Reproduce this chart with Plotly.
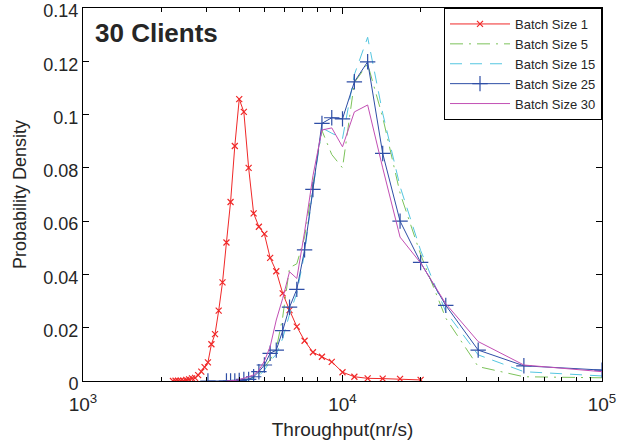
import plotly.graph_objects as go

# Throughput bin centres (nr/s), shared by all batch-size histograms
THROUGHPUT = [100000, 50000, 33333, 25000, 20000, 16667, 14286, 12500, 11111, 10000,
              9091, 8333, 7692, 7143, 6667, 6250, 5882, 5556, 5263, 5000,
              4762, 4545, 4348, 4167, 4000, 3846, 3704, 3571, 3448, 3333,
              3226, 3125, 3030, 2941, 2857, 2778, 2703, 2632, 2564, 2500,
              2439, 2381, 2326, 2273, 2222]

# Batch Size 1 (bins 5..45)
BS1_X = THROUGHPUT[4:]
BS1_Y = [0.0004, 0.0008, 0.0009, 0.0010, 0.0016, 0.0033, 0.0072, 0.0091, 0.0108, 0.0151,
         0.0204, 0.0266, 0.0329, 0.0412, 0.0462, 0.0552, 0.0579, 0.0629, 0.0800, 0.1010,
         0.1058, 0.0882, 0.0672, 0.0520, 0.0370, 0.0264, 0.0176,
         0.0138, 0.0070, 0.0052, 0.0035, 0.0022, 0.0012, 0.0010, 0.0006, 0.0004,
         0.0001, 0.0001, 0.0001, 0.0001, 0.0000]

# Batch Size 5 (bins 1..28)
BS5_X = THROUGHPUT[:28]
BS5_Y = [0.0012, 0.0016, 0.0054, 0.0236, 0.0475, 0.0705, 0.0990, 0.1190, 0.1120, 0.0800,
         0.0850, 0.0940, 0.0740, 0.0540, 0.0440, 0.0425, 0.0240, 0.0120, 0.0080, 0.0050,
         0.0025, 0.0012, 0.0006, 0.0003, 0.0001, 0.0000, 0.0000, 0.0000]

# Batch Size 15 (bins 1..28)
BS15_X = THROUGHPUT[:28]
BS15_Y = [0.0019, 0.0035, 0.0098, 0.0260, 0.0490, 0.0730, 0.1005, 0.1290, 0.1150, 0.0910,
          0.0930, 0.0950, 0.0720, 0.0480, 0.0330, 0.0250, 0.0160, 0.0100, 0.0075, 0.0040,
          0.0020, 0.0010, 0.0004, 0.0002, 0.0000, 0.0000, 0.0000, 0.0000]

# Batch Size 25 (bins 1..28 plus one empty bin further out)
BS25_X = THROUGHPUT[:28] + [THROUGHPUT[32]]
BS25_Y = [0.0041, 0.0057, 0.0116, 0.0284, 0.0445, 0.0600, 0.0854, 0.1198, 0.1123, 0.0984,
          0.0988, 0.0967, 0.0719, 0.0492, 0.0344, 0.0277, 0.0189, 0.0116, 0.0104, 0.0060,
          0.0035, 0.0016, 0.0006, 0.0006, 0.0002, 0.0000, 0.0000, 0.0000, 0.0000]

# Batch Size 30 (bins 1..28)
BS30_X = THROUGHPUT[:28]
BS30_Y = [0.0035, 0.0060, 0.0148, 0.0290, 0.0443, 0.0540, 0.0800, 0.1036, 0.1010, 0.0879,
          0.0950, 0.0942, 0.0770, 0.0560, 0.0385, 0.0410, 0.0310, 0.0229, 0.0129, 0.0075,
          0.0040, 0.0023, 0.0016, 0.0010, 0.0005, 0.0002, 0.0000, 0.0000]

X_TICKS = [1000, 10000, 100000]
X_TICK_TEXT = ["10<sup>3</sup>", "10<sup>4</sup>", "10<sup>5</sup>"]
X_MINOR = [2000, 3000, 4000, 5000, 6000, 7000, 8000, 9000,
           20000, 30000, 40000, 50000, 60000, 70000, 80000, 90000]
Y_TICKS = [0, 0.02, 0.04, 0.06, 0.08, 0.1, 0.12, 0.14]
Y_TICK_TEXT = ["0", "0.02", "0.04", "0.06", "0.08", "0.1", "0.12", "0.14"]

FONT = "Arial, Liberation Sans, Helvetica, sans-serif"
TEXT = "#262626"

fig = go.Figure()

fig.add_trace(go.Scatter(
    x=BS1_X, y=BS1_Y, name="Batch Size 1", legendgroup="bs1", mode="lines+markers",
    line=dict(color="#f02828", width=1),
    marker=dict(symbol="x-thin", size=6, line=dict(color="#f02828", width=1.2))))

fig.add_trace(go.Scatter(
    x=BS5_X, y=BS5_Y, name="Batch Size 5", legendgroup="bs5", mode="lines",
    line=dict(color="#7cc35a", width=1, dash="13px,6px,2px,6px")))

fig.add_trace(go.Scatter(
    x=BS15_X, y=BS15_Y, name="Batch Size 15", legendgroup="bs15", mode="lines",
    line=dict(color="#55c6e0", width=1, dash="12px,8px")))

fig.add_trace(go.Scatter(
    x=BS25_X, y=BS25_Y, name="Batch Size 25", legendgroup="bs25", mode="lines+markers",
    line=dict(color="#2e4ea6", width=1),
    marker=dict(symbol="cross-thin", size=11, line=dict(color="#2e4ea6", width=1.2))))

fig.add_trace(go.Scatter(
    x=BS30_X, y=BS30_Y, name="Batch Size 30", legendgroup="bs30", mode="lines",
    line=dict(color="#c24fb4", width=1)))

fig.add_annotation(
    text="<b>30 Clients</b>", xref="paper", yref="paper",
    x=0.019, y=0.934, xanchor="left", yanchor="middle", showarrow=False,
    font=dict(family=FONT, size=26, color=TEXT))

fig.update_xaxes(
    type="log", range=[3, 5], automargin=False,
    tickvals=X_TICKS, ticktext=X_TICK_TEXT,
    ticks="inside", ticklen=6, tickcolor="black", ticklabelstandoff=6,
    minor=dict(tickvals=X_MINOR, ticks="inside", ticklen=4, tickcolor="black"),
    showline=True, linecolor="black", linewidth=1, mirror="allticks",
    showgrid=False, zeroline=False, ticklabeloverflow="allow",
    tickfont=dict(family=FONT, size=19, color=TEXT),
    title=dict(text="Throughput(nr/s)", font=dict(family=FONT, size=19, color=TEXT),
               standoff=8))

fig.update_yaxes(
    range=[0, 0.14], tickvals=Y_TICKS, ticktext=Y_TICK_TEXT, automargin=False,
    ticks="inside", ticklen=6, tickcolor="black", ticklabelshift=3,
    showline=True, linecolor="black", linewidth=1, mirror="allticks",
    showgrid=False, zeroline=False, ticklabeloverflow="allow",
    tickfont=dict(family=FONT, size=18, color=TEXT),
    title=dict(text="Probability Density", font=dict(family=FONT, size=18, color=TEXT),
               standoff=12))

fig.update_layout(
    width=618, height=447,
    margin=dict(l=83, r=16, t=8, b=66, autoexpand=False),
    paper_bgcolor="white", plot_bgcolor="white",
    font=dict(family=FONT, color=TEXT),
    legend=dict(x=1, y=1, xanchor="right", yanchor="top",
                bgcolor="white", bordercolor="black", borderwidth=1,
                font=dict(family=FONT, size=13, color=TEXT),
                itemwidth=60, tracegroupgap=0),
    showlegend=True)

fig.write_html("out.html")
